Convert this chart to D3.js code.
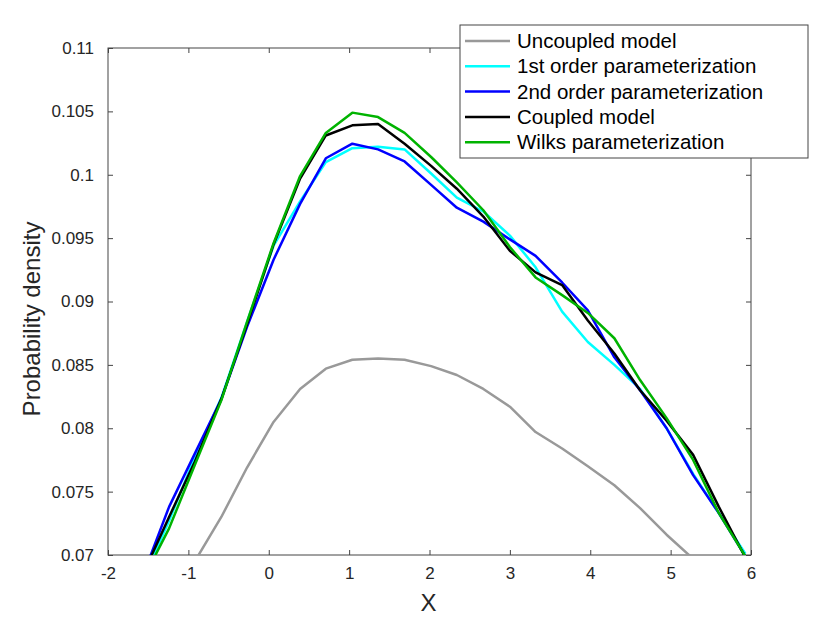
<!DOCTYPE html>
<html>
<head>
<meta charset="utf-8">
<script src="https://cdn.jsdelivr.net/npm/d3@7"></script>
<style>
  body { margin: 0; background: #fff; }
  text { font-family: "Liberation Sans", Arial, sans-serif; }
</style>
</head>
<body>
<div id="chart"></div>
<script>
// sample positions along X
const xs = [-1.57, -1.24, -0.92, -0.59, -0.27, 0.06, 0.39, 0.71, 1.04, 1.36, 1.69, 2.02,
            2.34, 2.67, 3.0, 3.32, 3.65, 3.97, 4.30, 4.62, 4.95, 5.28, 5.60, 5.93]

const uncoupled = [0.0620, 0.0655, 0.0695, 0.0730, 0.0769, 0.0805, 0.0831, 0.0847, 0.0854, 0.0855, 0.0854, 0.0849,
                   0.0842, 0.0831, 0.0817, 0.0797, 0.0784, 0.0770, 0.0755, 0.0737, 0.0716, 0.0697, 0.0680, 0.0665]
const firstOrder = [0.0680, 0.0727, 0.0777, 0.0824, 0.0884, 0.0944, 0.0979, 0.1010, 0.1021, 0.1022, 0.1020, 0.1001,
                    0.0982, 0.0971, 0.0952, 0.0927, 0.0892, 0.0868, 0.0850, 0.0831, 0.0800, 0.0764, 0.0733, 0.0701]
const secondOrder = [0.0683, 0.0738, 0.0780, 0.0823, 0.0880, 0.0933, 0.0977, 0.1013, 0.10245, 0.1020, 0.10105, 0.0992,
                     0.0974, 0.0963, 0.0949, 0.0936, 0.0915, 0.0893, 0.0856, 0.0830, 0.0800, 0.0763, 0.0733, 0.0699]
const coupled = [0.0684, 0.0730, 0.07735, 0.0823, 0.0882, 0.0945, 0.0997, 0.1031, 0.1039, 0.1040, 0.10245, 0.1007,
                 0.0989, 0.0967, 0.0940, 0.0923, 0.0913, 0.0885, 0.0859, 0.0830, 0.0806, 0.0779, 0.0738, 0.0698]
const wilks = [0.0680, 0.0721, 0.0771, 0.0822, 0.0884, 0.0946, 0.0999, 0.1033, 0.1049, 0.10455, 0.1033, 0.1014,
               0.0994, 0.0972, 0.0943, 0.0919, 0.0905, 0.0891, 0.0871, 0.0838, 0.0808, 0.0775, 0.0733, 0.0699]

const seriesNames = ["Uncoupled model", "1st order parameterization", "2nd order parameterization",
                     "Coupled model", "Wilks parameterization"]
const seriesColors = ["#999999", "#00ffff", "#0000ff", "#000000", "#00b300"]
const seriesValues = [uncoupled, firstOrder, secondOrder, coupled, wilks]

const xTicks = [-2, -1, 0, 1, 2, 3, 4, 5, 6]
const yTicks = [0.07, 0.075, 0.08, 0.085, 0.09, 0.095, 0.1, 0.105, 0.11]

const W = 830, H = 624
const margin = {left: 108, right: 79, top: 48, bottom: 69}
const pw = W - margin.left - margin.right
const ph = H - margin.top - margin.bottom

const svg = d3.select("#chart").append("svg").attr("width", W).attr("height", H)
const g = svg.append("g").attr("transform", `translate(${margin.left},${margin.top})`)

const x = d3.scaleLinear().domain([-2, 6]).range([0, pw])
const y = d3.scaleLinear().domain([0.07, 0.11]).range([ph, 0])

svg.append("defs").append("clipPath").attr("id", "clip")
  .append("rect").attr("width", pw).attr("height", ph)

const axisColor = "#444"
const labelColor = "#262626"

// frame
g.append("rect").attr("width", pw).attr("height", ph)
  .attr("fill", "none").attr("stroke", axisColor).attr("stroke-width", 1)

function styleAxis(sel, showText) {
  sel.select(".domain").remove()
  sel.selectAll(".tick line").attr("stroke", axisColor)
  sel.selectAll(".tick text").attr("fill", labelColor).style("font-size", "17px")
  if (!showText) sel.selectAll(".tick text").remove()
}

g.append("g").attr("transform", `translate(0,${ph})`)
  .call(d3.axisBottom(x).tickValues(xTicks).tickSizeInner(-5).tickPadding(12).tickFormat(d => String(d)))
  .call(s => styleAxis(s, true))
g.append("g")
  .call(d3.axisTop(x).tickValues(xTicks).tickSizeInner(-5))
  .call(s => styleAxis(s, false))
g.append("g")
  .call(d3.axisLeft(y).tickValues(yTicks).tickSizeInner(-5).tickPadding(14).tickFormat(d => String(+d.toFixed(3))))
  .call(s => styleAxis(s, true))
g.append("g").attr("transform", `translate(${pw},0)`)
  .call(d3.axisRight(y).tickValues(yTicks).tickSizeInner(-5))
  .call(s => styleAxis(s, false))

// lines
const line = d3.line().x((d, i) => x(xs[i])).y(d => y(d))
const lines = g.append("g").attr("clip-path", "url(#clip)")
seriesValues.forEach((vals, k) => {
  lines.append("path").datum(vals)
    .attr("fill", "none")
    .attr("stroke", seriesColors[k])
    .attr("stroke-width", 2.5)
    .attr("stroke-linejoin", "round")
    .attr("d", line)
})

// axis titles
svg.append("text").attr("x", margin.left + pw / 2 - 1).attr("y", 611)
  .attr("text-anchor", "middle").attr("fill", labelColor).style("font-size", "24px").text("X")
svg.append("text").attr("transform", "translate(40,319) rotate(-90)")
  .attr("text-anchor", "middle").attr("fill", labelColor).style("font-size", "24px").text("Probability density")

// legend
const leg = svg.append("g").attr("transform", "translate(460,25)")
leg.append("rect").attr("width", 348).attr("height", 133)
  .attr("fill", "#fff").attr("stroke", axisColor).attr("stroke-width", 1)
seriesNames.forEach((name, k) => {
  const yy = 16 + k * 25.3
  leg.append("line").attr("x1", 5).attr("x2", 50).attr("y1", yy).attr("y2", yy)
    .attr("stroke", seriesColors[k]).attr("stroke-width", 2.5)
  leg.append("text").attr("x", 57).attr("y", yy + 7)
    .attr("fill", "#000").style("font-size", "20.5px").text(name)
})
</script>
</body>
</html>
